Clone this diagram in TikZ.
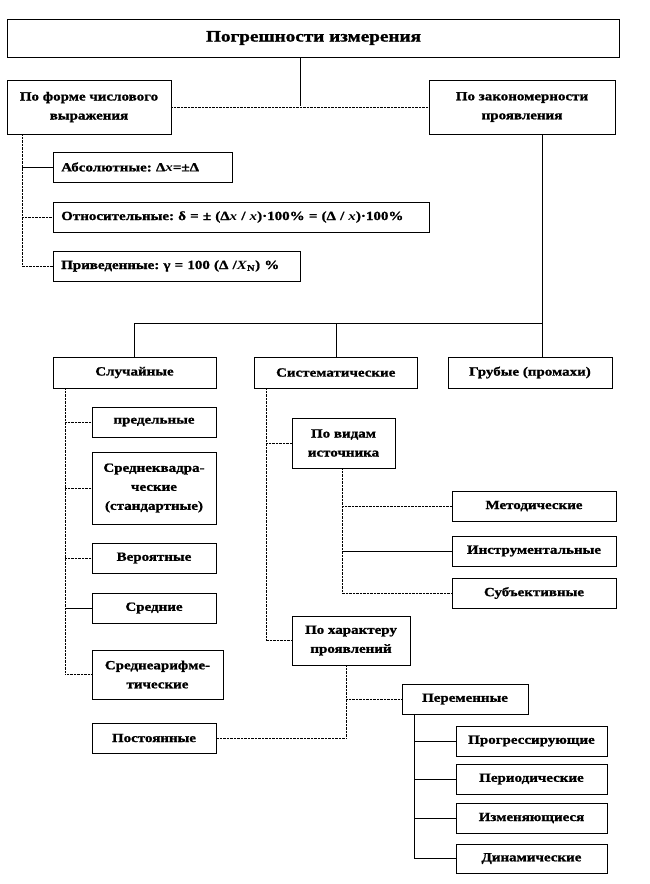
\documentclass[tikz,border=0pt]{standalone}
\usepackage{fontspec}
\setmainfont{Liberation Serif}[FakeStretch=1.2,BoldFeatures={FakeBold=1.2,FakeStretch=1.2}]
\usepackage{tikz}
\frenchspacing

\begin{document}
\begin{tikzpicture}[x=1pt,y=-1pt,thin,
  main node/.style={draw,fill=white,inner sep=2pt,align=center,minimum height=30pt,font=\bfseries\fontsize{12.5}{19}\selectfont},
  left node/.style={main node,anchor=west,inner xsep=8pt,align=left},
  dots/.style={densely dotted}]
  \useasboundingbox (0,0) rectangle (649,884);

  \node[main node,minimum width=612pt,minimum height=38pt,font=\bfseries\fontsize{16}{18}\selectfont] (1) at (313.5,38) {Погрешности измерения};
  \node[main node,minimum width=163.5pt,minimum height=54pt] (2) at (89,107) {По форме числового\\выражения};
  \node[main node,minimum width=186.5pt,minimum height=54pt] (3) at (522,107) {По закономерности\\проявления};

  \node[left node,text width=163pt] (4) at (53,167) {Абсолютные: Δ\textit{x}=±Δ};
  \node[left node,text width=360pt] (5) at (53,217) {Относительные: δ = ± (Δ\textit{x} / \textit{x})·100\% = (Δ / \textit{x})·100\%};
  \node[left node,text width=231pt] (6) at (53,266) {Приведенные: γ = 100 (Δ /\textit{X}\textsubscript{N}) \%};

  \node[main node,minimum width=163pt,minimum height=31pt] (7) at (134.5,372.5) {Случайные};
  \node[main node,minimum width=162.5pt,minimum height=31pt] (8) at (335.75,372.5) {Систематические};
  \node[main node,minimum width=164pt,minimum height=31pt] (9) at (530,372.5) {Грубые (промахи)};

  \node[main node,minimum width=124pt] (10) at (154,422) {предельные};
  \node[main node,minimum width=124pt,minimum height=72pt] (11) at (154,488) {Среднеквадра-\\ческие\\(стандартные)};
  \node[main node,minimum width=124pt] (12) at (154,558) {Вероятные};
  \node[main node,minimum width=124pt] (13) at (154,608) {Средние};
  \node[main node,minimum width=131pt,minimum height=49pt] (14) at (157.5,674.5) {Среднеарифме-\\тические};
  \node[main node,minimum width=124pt] (15) at (154,738) {Постоянные};

  \node[main node,minimum width=103pt,minimum height=50pt] (16) at (343.5,443) {По видам\\источника};
  \node[main node,minimum width=164pt] (17) at (534,506) {Методические};
  \node[main node,minimum width=164pt] (18) at (534,551) {Инструментальные};
  \node[main node,minimum width=164pt] (19) at (534,593) {Субъективные};

  \node[main node,minimum width=118pt,minimum height=49pt] (20) at (351,640.5) {По характеру\\проявлений};
  \node[main node,minimum width=126pt] (21) at (465,699) {Переменные};
  \node[main node,minimum width=151pt] (22) at (531.5,741) {Прогрессирующие};
  \node[main node,minimum width=151pt] (23) at (531.5,779) {Периодические};
  \node[main node,minimum width=151pt] (24) at (531.5,818) {Изменяющиеся};
  \node[main node,minimum width=151pt,minimum height=29pt] (25) at (531.5,858.5) {Динамические};

  \coordinate (a) at (300,106);
  \coordinate (b) at (22,134);
  \coordinate (c) at (542,323);
  \coordinate (d) at (65,388);
  \coordinate (e) at (266,388);
  \coordinate (f) at (342,468);
  \coordinate (g) at (346,665);
  \coordinate (h) at (414,714);

  \draw (1.south -| a) -- (a);
  \draw[dots] (2) -- (3);
  \draw[dots] (b) |- (6.west);
  \draw (4.west -| b) -- (4.west);
  \draw[dots] (5.west -| b) -- (5.west);

  \draw (3.south -| c) -- (9.north -| c);
  \draw (7.north) |- (c);
  \draw (8.north) -- (8.north |- c);

  \draw[dots] (d) |- (14.west);
  \draw[dots] (10.west -| d) -- (10.west);
  \draw[dots] (11.west -| d) -- (11.west);
  \draw[dots] (12.west -| d) -- (12.west);
  \draw (13.west -| d) -- (13.west);

  \draw[dots] (e) |- (20.west);
  \draw[dots] (16.west -| e) -- (16.west);
  \draw[dots] (f) |- (19.west);
  \draw[dots] (17.west -| f) -- (17.west);
  \draw (18.west -| f) -- (18.west);

  \draw[dots] (g) |- (15.east);
  \draw[dots] (21.west -| g) -- (21.west);
  \draw (h) |- (25.west);
  \draw (22.west -| h) -- (22.west);
  \draw (23.west -| h) -- (23.west);
  \draw (24.west -| h) -- (24.west);

\end{tikzpicture}
\end{document}
